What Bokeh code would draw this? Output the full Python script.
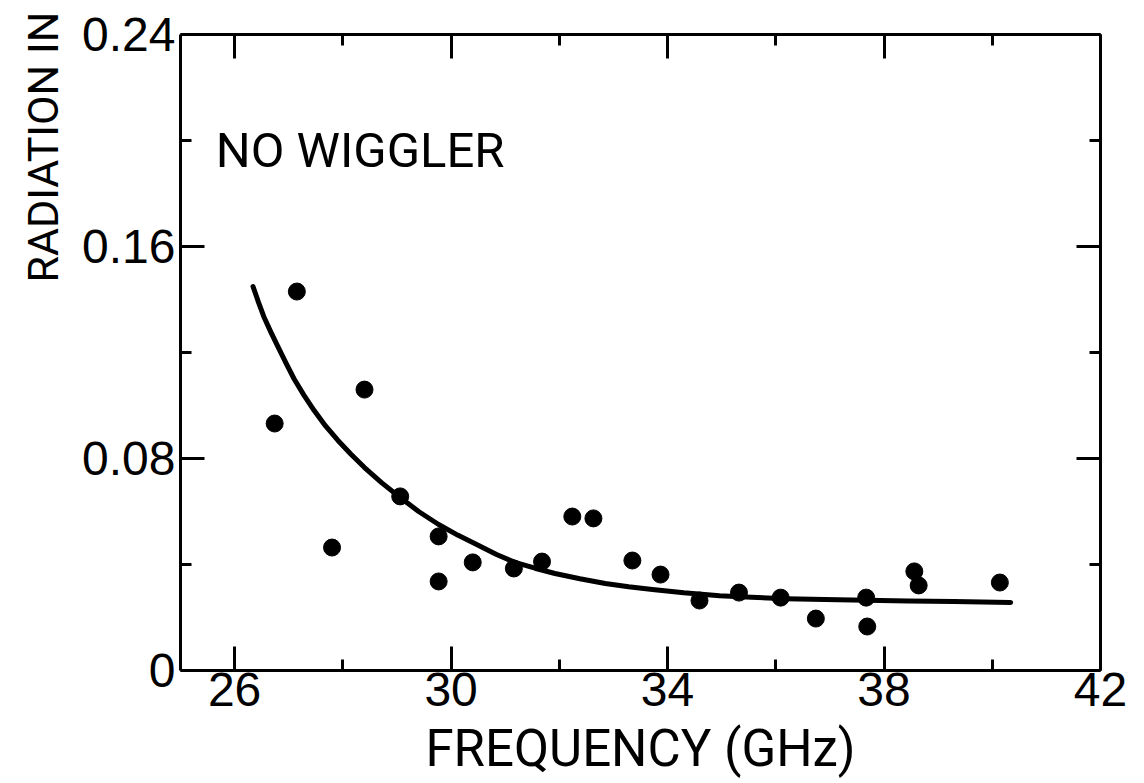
from bokeh.plotting import figure
from bokeh.models import LinearAxis, FixedTicker, Range1d, Label, Title
from bokeh.embed import file_html
from bokeh.resources import INLINE

# Measured radiation intensity versus frequency (no wiggler)
freq = [26.74, 27.15, 27.80, 28.40, 29.06, 29.77, 29.77, 30.40, 31.16, 31.68,
        32.24, 32.63, 33.35, 33.87, 34.59, 35.32, 36.09, 36.74, 37.67, 37.69,
        38.56, 38.64, 40.14]
intensity = [0.0932, 0.143, 0.0464, 0.106, 0.0657, 0.0506, 0.0336, 0.0408, 0.0385, 0.0411,
             0.0581, 0.0574, 0.0415, 0.0362, 0.0264, 0.0294, 0.0275, 0.0196, 0.0275, 0.0166,
             0.0374, 0.0321, 0.0332]

# Smooth trend curve through the measurements
fit_freq = [26.34, 26.44, 26.54, 26.67, 26.80, 26.95, 27.10, 27.28, 27.47, 27.68,
            27.91, 28.15, 28.40, 28.72, 29.06, 29.40, 29.77, 30.13, 30.51, 30.84,
            31.18, 31.55, 31.92, 32.38, 32.85, 33.28, 33.72, 34.30, 34.96, 35.55,
            36.19, 36.90, 37.67, 38.45, 39.29, 40.34]
fit_intensity = [0.1449, 0.1390, 0.1335, 0.1277, 0.1222, 0.1160, 0.1100, 0.1039, 0.0981, 0.0923,
                 0.0868, 0.0816, 0.0766, 0.0708, 0.0653, 0.0600, 0.0551, 0.0510, 0.0472, 0.0438,
                 0.0408, 0.0386, 0.0366, 0.0346, 0.0328, 0.0316, 0.0306, 0.0293, 0.0282, 0.0276,
                 0.0271, 0.0268, 0.0265, 0.0262, 0.0260, 0.0257]

x_ticks = [26, 30, 34, 38, 42]
x_minor = [28, 32, 36, 40]
x_tick_labels = ["26", "30", "34", "38", "42"]
y_ticks = [0, 0.08, 0.16, 0.24]
y_minor = [0.04, 0.12, 0.20]
y_tick_labels = ["0", "0.08", "0.16", "0.24"]

NUM_FONT = "Liberation Sans"
WORD_FONT = "Roboto"

p = figure(width=1144, height=783, output_backend="svg", toolbar_location=None,
           x_range=Range1d(25, 42), y_range=Range1d(0, 0.24),
           x_axis_location=None, y_axis_location=None,
           min_border_left=180, min_border_right=44,
           min_border_top=34, min_border_bottom=113,
           background_fill_color="white", border_fill_color="white")
p.outline_line_color = None
p.xgrid.visible = False
p.ygrid.visible = False


def style_axis(ax, major, minor, labels, show_labels):
    ax.ticker = FixedTicker(ticks=major, minor_ticks=minor)
    ax.axis_line_color = "black"
    ax.axis_line_width = 3
    ax.major_tick_line_color = "black"
    ax.major_tick_line_width = 3
    ax.minor_tick_line_color = "black"
    ax.minor_tick_line_width = 3
    ax.major_tick_in = 24
    ax.major_tick_out = 0
    ax.minor_tick_in = 11
    ax.minor_tick_out = 0
    ax.major_label_text_font = NUM_FONT
    ax.major_label_text_font_size = "48px"
    ax.major_label_text_color = "black"
    if show_labels:
        ax.major_label_overrides = {t: s for t, s in zip(major, labels)}
    else:
        ax.major_label_overrides = {t: "" for t in major}
        ax.major_label_standoff = 0


bottom = LinearAxis()
style_axis(bottom, x_ticks, x_minor, x_tick_labels, True)
bottom.major_label_standoff = 2
bottom.axis_label = "FREQUENCY (GHz)"
bottom.axis_label_text_font = WORD_FONT
bottom.axis_label_text_font_size = "51px"
bottom.axis_label_text_font_style = "normal"
bottom.axis_label_text_color = "black"
bottom.axis_label_standoff = 10
p.add_layout(bottom, "below")

left = LinearAxis()
style_axis(left, y_ticks, y_minor, y_tick_labels, True)
left.major_label_standoff = 5
p.add_layout(left, "left")

top = LinearAxis()
style_axis(top, x_ticks, x_minor, x_tick_labels, False)
p.add_layout(top, "above")

right = LinearAxis()
style_axis(right, y_ticks, y_minor, y_tick_labels, False)
p.add_layout(right, "right")

# Vertical quantity label, anchored at the lower end and shifted upward
ylabel = Title(text="RADIATION IN", align="left", offset=388, standoff=24,
               text_font=WORD_FONT, text_font_size="43px",
               text_font_style="normal", text_color="black")
p.add_layout(ylabel, "left")

p.line(fit_freq, fit_intensity, line_color="black", line_width=5,
       line_join="round", line_cap="round")
p.scatter(freq, intensity, size=17, marker="circle",
          fill_color="black", line_color="black")

p.add_layout(Label(x=25.65, y=0.1962, text="NO WIGGLER",
                   text_font=WORD_FONT, text_font_size="49px", text_color="black",
                   text_align="left", text_baseline="alphabetic"))

open("out.html", "w").write(file_html(p, INLINE))
